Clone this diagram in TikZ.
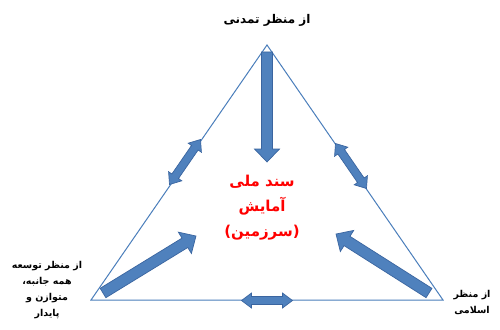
\documentclass[tikz,border=0pt]{standalone}
\usepackage{fontspec}
\usetikzlibrary{calc}
\TeXXeTstate=1
\newfontfamily\arabicfont[Script=Arabic]{DejaVu Sans}
\definecolor{arrfill}{HTML}{4F81BD}
\definecolor{arrline}{HTML}{3A65A0}
\definecolor{triline}{HTML}{4A7EBB}
\tikzset{
  arrowsty/.style={fill=arrfill, draw=arrline, line width=0.7pt, line join=miter},
  tristy/.style={draw=triline, line width=1pt},
  lbl/.style={font=\arabicfont\bfseries\fontsize{9.5}{16}\selectfont, align=center, text=black, inner sep=0pt},
  toplbl/.style={lbl, font=\arabicfont\bfseries\fontsize{12}{16}\selectfont},
  centerlbl/.style={font=\arabicfont\bfseries\fontsize{15}{25}\selectfont, align=center, text=red, inner sep=0pt}
}
% single fat arrow: start, end, half shaft, half head, head length (pt)
\newcommand\fatarrow[5]{%
  \path[arrowsty] let \p1=(#1), \p2=(#2),
    \n1={atan2(\y2-\y1,\x2-\x1)}, \n2={veclen(\x2-\x1,\y2-\y1)} in
   [shift={(\p1)}, rotate=\n1]
   (0pt,#3pt) -- ({(\n2-#5)*1pt},#3pt) -- ({(\n2-#5)*1pt},#4pt) -- ({\n2*1pt},0pt)
   -- ({(\n2-#5)*1pt},-#4pt) -- ({(\n2-#5)*1pt},-#3pt) -- (0pt,-#3pt) -- cycle;}
% double fat arrow
\newcommand\dblarrow[5]{%
  \path[arrowsty] let \p1=(#1), \p2=(#2),
    \n1={atan2(\y2-\y1,\x2-\x1)}, \n2={veclen(\x2-\x1,\y2-\y1)} in
   [shift={(\p1)}, rotate=\n1]
   (0pt,0pt) -- (#5pt,#4pt) -- (#5pt,#3pt) -- ({(\n2-#5)*1pt},#3pt) -- ({(\n2-#5)*1pt},#4pt)
   -- ({\n2*1pt},0pt) -- ({(\n2-#5)*1pt},-#4pt) -- ({(\n2-#5)*1pt},-#3pt)
   -- (#5pt,-#3pt) -- (#5pt,-#4pt) -- cycle;}
\begin{document}
\begin{tikzpicture}[x=1pt,y=-1pt]
\useasboundingbox (0,0) rectangle (500,329);
\fill[white] (0,0) rectangle (500,329);
% triangle
\coordinate (T) at (267,45);
\coordinate (BL) at (91,300);
\coordinate (BR) at (443,300);
\draw[tristy] (T) -- (BL) -- (BR) -- cycle;
% arrow ends
\coordinate (a1s) at (267,52);
\coordinate (a1e) at (267,162);
\coordinate (a2s) at (103,293);
\coordinate (a2e) at (196,236);
\coordinate (a3s) at (429,293);
\coordinate (a3e) at (336,234);
\coordinate (d1s) at (169.5,184.5);
\coordinate (d1e) at (200.5,139.5);
\coordinate (d2s) at (335.5,143.5);
\coordinate (d2e) at (366.5,188.5);
\coordinate (d3s) at (241.5,300.5);
\coordinate (d3e) at (292.5,300.5);
\fatarrow{a1s}{a1e}{5.5}{12.5}{13}
\fatarrow{a2s}{a2e}{5.5}{12.5}{13}
\fatarrow{a3s}{a3e}{5.5}{12.5}{13}
\dblarrow{d1s}{d1e}{4}{8}{10}
\dblarrow{d2s}{d2e}{4}{8}{10}
\dblarrow{d3s}{d3e}{4}{7.5}{10}
% labels
\node[toplbl] (top) at (267,20) {\beginR از منظر تمدنی\endR};
\node[lbl] (left) at (47,290) {\beginR از منظر توسعه\endR\\\beginR همه جانبه،\endR\\\beginR متوازن و\endR\\\beginR پایدار\endR};
\node[lbl] (right) at (472,302) {\beginR از منظر\endR\\\beginR اسلامی\endR};
\node[centerlbl] (center) at (262,208) {\beginR سند ملی\endR\\\beginR آمایش\endR\\\beginR (سرزمین)\endR};
\end{tikzpicture}
\end{document}
